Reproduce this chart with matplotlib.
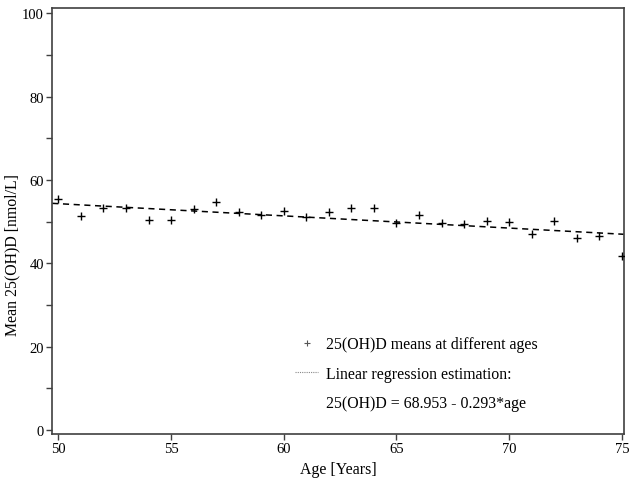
import matplotlib
matplotlib.use("Agg")
import matplotlib.pyplot as plt
from matplotlib.lines import Line2D
import numpy as np

# Mean 25(OH)D by age
AGES = list(range(50, 76))
MEANS = [55.5, 51.4, 53.3, 53.3, 50.4, 50.4, 53.0, 54.7, 52.2, 51.5,
         52.6, 51.2, 52.3, 53.3, 53.3, 49.7, 51.7, 49.7, 49.4, 50.2,
         49.9, 47.0, 50.2, 46.0, 46.6, 41.8]

# Regression coefficients shown in the legend
INTERCEPT = 68.953
SLOPE = -0.293

XLIM = (49.73, 75.08)
YLIM = (-1.0, 101.2)

plt.rcParams["font.family"] = ["Liberation Serif", "DejaVu Serif"]
plt.rcParams["font.size"] = 11

fig = plt.figure(figsize=(6.3, 4.81), dpi=100)
ax = fig.add_axes([0.083, 0.0956, 0.907, 0.885])

x_line = np.array(XLIM)
ax.plot(x_line, INTERCEPT + SLOPE * x_line, color="black", linestyle=(0, (4, 3)),
        linewidth=1.1, zorder=2)
ax.plot(AGES, MEANS, linestyle="none", marker="+", color="black",
        markersize=6, markeredgewidth=1.0, zorder=3)

ax.set_xlim(*XLIM)
ax.set_ylim(*YLIM)
ax.set_xticks([50, 55, 60, 65, 70, 75])
ax.set_yticks([0, 20, 40, 60, 80, 100])
ax.set_yticks([10, 30, 50, 70, 90], minor=True)
ax.tick_params(axis="both", which="major", length=4, width=1.0, color="#404040",
               labelsize=10.5, pad=2)
ax.tick_params(axis="y", which="minor", length=4, width=1.0, color="#404040")
for sp in ax.spines.values():
    sp.set_color("#404040")
    sp.set_linewidth(1.2)

ax.set_xlabel("Age [Years]", fontsize=11.4, labelpad=4)
ax.set_ylabel("Mean 25(OH)D [nmol/L]", fontsize=11.4)
ax.yaxis.set_label_coords(-0.055, 0.423)

handles = [
    Line2D([], [], linestyle="none", marker="+", color="#555555", markersize=5,
           markeredgewidth=0.8),
    Line2D([], [], linestyle=(0, (1, 1)), color="#888888", linewidth=0.8),
    Line2D([], [], linestyle="none"),
]
labels = [
    "25(OH)D means at different ages",
    "Linear regression estimation:",
    f"25(OH)D = {INTERCEPT} - {abs(SLOPE)}*age",
]
ax.legend(handles, labels, loc="lower left", bbox_to_anchor=(0.4, 0.02),
          frameon=False, fontsize=11.4, labelspacing=0.85, handlelength=1.45,
          handletextpad=0.5)

fig.savefig("out.png", dpi=100)
